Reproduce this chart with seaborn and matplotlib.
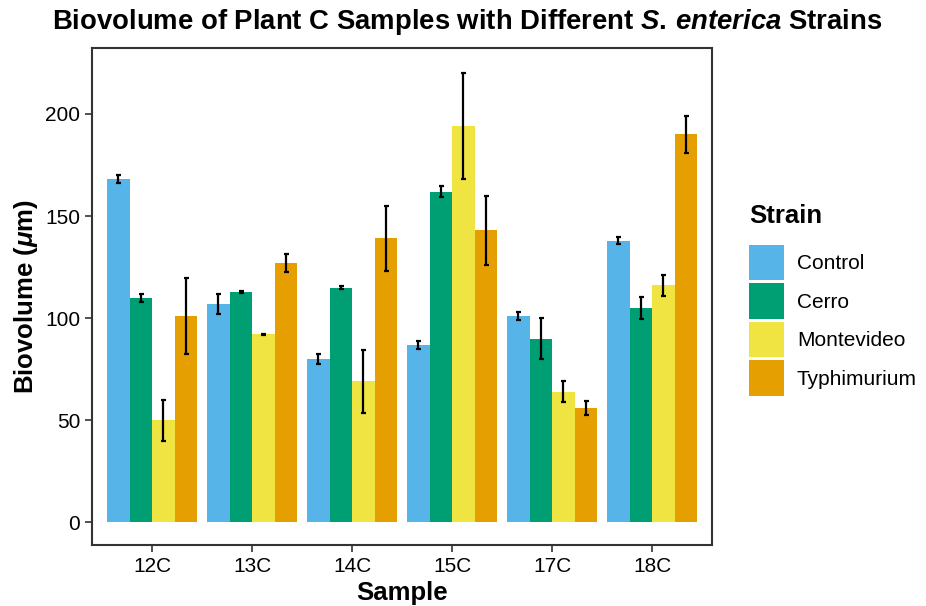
import pandas as pd
import matplotlib.pyplot as plt
import seaborn as sns

# valores
samples = ["12C", "13C", "14C", "15C", "17C", "18C"]
strains = ["Control", "Cerro", "Montevideo", "Typhimurium"]
control = [168, 107, 80, 87, 101, 138]
cerro = [110, 113, 115, 162, 90, 105]
montevideo = [50, 92, 69, 194, 64, 116]
typhimurium = [101, 127, 139, 143, 56, 190]
err_control = [2, 5, 2.5, 2, 2, 1.5]
err_cerro = [2, 0.5, 0.5, 2.5, 10, 5.5]
err_montevideo = [10, 0.3, 15.5, 26, 5, 5]
err_typhimurium = [18.5, 4.5, 16, 17, 3.5, 9]
cores = ["#56B4E9", "#009E73", "#F0E442", "#E69F00"]

valores = [control, cerro, montevideo, typhimurium]
erros = [err_control, err_cerro, err_montevideo, err_typhimurium]
linhas = []
for s, v, e in zip(strains, valores, erros):
    for amostra, val, err in zip(samples, v, e):
        linhas.append({"Sample": amostra, "Strain": s, "Biovolume": val, "Erro": err})
df = pd.DataFrame(linhas)

sns.set_style("white")
plt.rcParams["font.family"] = ["Liberation Sans", "DejaVu Sans"]
plt.rcParams["text.color"] = "black"
plt.rcParams["axes.labelcolor"] = "black"
plt.rcParams["mathtext.fontset"] = "custom"
plt.rcParams["mathtext.it"] = "Liberation Sans:italic:bold"
plt.rcParams["mathtext.bf"] = "Liberation Sans:bold"
plt.rcParams["mathtext.rm"] = "Liberation Sans:bold"

fig = plt.figure(figsize=(9.26, 6.06), dpi=100)
ax = fig.add_axes([0.0994, 0.1007, 0.6696, 0.8201])

sns.barplot(data=df, x="Sample", y="Biovolume", hue="Strain", order=samples,
            hue_order=strains, palette=cores, width=0.9, errorbar=None,
            saturation=1, linewidth=0, ax=ax)

for cont, e in zip(ax.containers, erros):
    for barra, err in zip(cont, e):
        xc = barra.get_x() + barra.get_width() / 2
        ax.errorbar(xc, barra.get_height(), yerr=err, color="black",
                    elinewidth=1.6, capsize=1.8, capthick=1.6, fmt="none")

ax.set_xlim(-0.6, 5.6)
ax.set_ylim(-11.1, 232.3)
ax.set_yticks([0, 50, 100, 150, 200])
ax.set_xlabel("Sample", fontsize=18.5, fontweight="bold")
ax.set_ylabel(r"Biovolume ($\mu$m)", fontsize=18.5, fontweight="bold")
ax.tick_params(axis="both", labelsize=15, colors="#333333", labelcolor="black",
               length=5, width=1.2, direction="out", left=True, bottom=True)
for sp in ax.spines.values():
    sp.set_color("#333333")
    sp.set_linewidth(1.5)

fig.suptitle(r"Biovolume of Plant C Samples with Different $\it{S.\,enterica}$ Strains",
             fontsize=19.8, fontweight="bold", x=0.504, y=1 - 22 / 606, va="center")

ax.legend_.remove()
h, l = ax.get_legend_handles_labels()
leg = fig.legend(h, l, title="Strain", loc="center left",
                 bbox_to_anchor=(749 / 926, 0.505), frameon=False, fontsize=15,
                 title_fontproperties={"weight": "bold", "size": 18.5},
                 handlelength=1.7, handleheight=2.25, labelspacing=0.14,
                 handletextpad=0.6, borderpad=0, borderaxespad=0)
leg._legend_box.align = "left"
leg._legend_box.sep = 12

plt.savefig("out.png", dpi=100)
